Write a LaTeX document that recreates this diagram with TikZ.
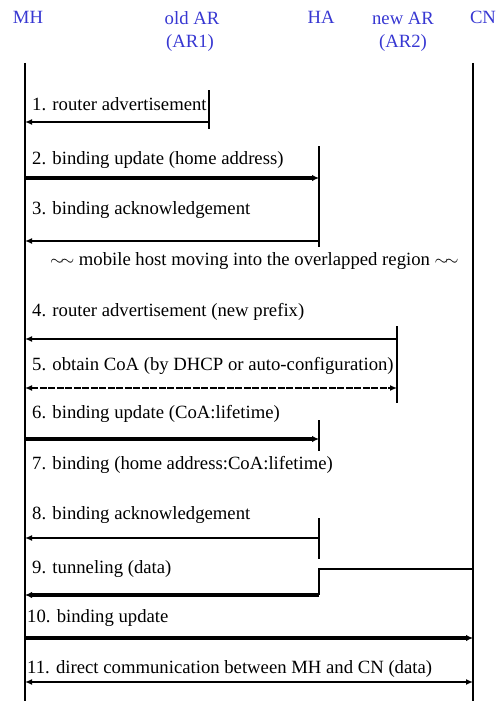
\documentclass[tikz,border=0pt]{standalone}
\usepackage{fontspec}
\setmainfont{Liberation Serif}
\usetikzlibrary{arrows.meta}
\definecolor{hdrblue}{RGB}{55,55,210}
\begin{document}
\begin{tikzpicture}[x=1pt,y=-1pt,
  hdr/.style={text=hdrblue, font=\fontsize{18.7}{22}\selectfont, inner sep=0pt, anchor=base},
  lbl/.style={font=\fontsize{18.7}{22}\selectfont, inner sep=0pt, anchor=base west},
  life/.style={line width=1.8pt},
  tickline/.style={line width=1.7pt},
  msg/.style={line width=1.5pt, -{Latex[length=7pt,width=6pt]}},
  tmsg/.style={line width=3.6pt, -{Latex[length=7pt,width=6.5pt]}},
  dmsg/.style={line width=1.5pt, dash pattern=on 7pt off 1.5pt, {Latex[length=7pt,width=6pt]}-{Latex[length=7pt,width=6pt]}},
  bmsg/.style={line width=1.5pt, {Latex[length=7pt,width=6pt]}-{Latex[length=7pt,width=6pt]}}]
\useasboundingbox (0,0) rectangle (497,701);

% headers
\node[hdr] (hMH) at (28,24) {MH};
\node[hdr] (hOld) at (192,25) {old AR};
\node[hdr] (hOld2) at (190,48) {(AR1)};
\node[hdr] (hHA) at (321,24) {HA};
\node[hdr] (hNew) at (403,25) {new AR};
\node[hdr] (hNew2) at (403,48) {(AR2)};
\node[hdr] (hCN) at (483,24) {CN};

% lifelines
\coordinate (mhT) at (25,63); \coordinate (mhB) at (25,701);
\coordinate (cnT) at (473,63); \coordinate (cnB) at (473,701);
\draw[life] (mhT) -- (mhB);
\draw[life] (cnT) -- (cnB);

% 1
\node[lbl] (t1) at (32,110) {1. router advertisement};
\coordinate (ar1a) at (209,90); \coordinate (ar1b) at (209,129);
\draw[tickline] (ar1a) -- (ar1b);
\coordinate (m1s) at (209,122); \coordinate (m1e) at (25,122);
\draw[msg] (m1s) -- (m1e);

% 2,3
\node[lbl] (t2) at (32,164) {2. binding update (home address)};
\coordinate (ha1a) at (319,146); \coordinate (ha1b) at (319,247);
\draw[tickline] (ha1a) -- (ha1b);
\coordinate (m2s) at (25,178); \coordinate (m2e) at (319,178);
\draw[tmsg] (m2s) -- (m2e);
\node[lbl] (t3) at (32,214) {3. binding acknowledgement};
\coordinate (m3s) at (319,241); \coordinate (m3e) at (25,241);
\draw[msg] (m3s) -- (m3e);

\node[lbl] (tmove) at (50,265) {$\sim\!\sim$ mobile host moving into the overlapped region $\sim\!\sim$};

% 4,5
\node[lbl] (t4) at (32,316) {4. router advertisement (new prefix)};
\coordinate (ar2a) at (397,326); \coordinate (ar2b) at (397,403);
\draw[tickline] (ar2a) -- (ar2b);
\coordinate (m4s) at (397,339); \coordinate (m4e) at (25,339);
\draw[msg] (m4s) -- (m4e);
\node[lbl] (t5) at (32,370) {5. obtain CoA (by DHCP or auto-configuration)};
\coordinate (m5s) at (25,388); \coordinate (m5e) at (397,388);
\draw[dmsg] (m5s) -- (m5e);

% 6,7
\node[lbl] (t6) at (32,418) {6. binding update (CoA:lifetime)};
\coordinate (ha2a) at (319,420); \coordinate (ha2b) at (319,451);
\draw[tickline] (ha2a) -- (ha2b);
\coordinate (m6s) at (25,439); \coordinate (m6e) at (319,439);
\draw[tmsg] (m6s) -- (m6e);
\node[lbl] (t7) at (32,469) {7. binding (home address:CoA:lifetime)};

% 8
\node[lbl] (t8) at (32,519) {8. binding acknowledgement};
\coordinate (ha3a) at (319,518); \coordinate (ha3b) at (319,559);
\draw[tickline] (ha3a) -- (ha3b);
\coordinate (m8s) at (319,538); \coordinate (m8e) at (25,538);
\draw[msg] (m8s) -- (m8e);

% 9
\node[lbl] (t9) at (32,573) {9. tunneling (data)};
\coordinate (m9s) at (473,569); \coordinate (m9c) at (319,595); \coordinate (m9e) at (25,595);
\draw[line width=1.5pt] (m9s) -| (m9c);
\draw[tmsg] (m9c) -- (m9e);

% 10
\node[lbl] (t10) at (27,622) {10. binding update};
\coordinate (m10s) at (25,638); \coordinate (m10e) at (473,638);
\draw[tmsg] (m10s) -- (m10e);

% 11
\node[lbl] (t11) at (27,673) {11. direct communication between MH and CN (data)};
\coordinate (m11s) at (25,682); \coordinate (m11e) at (473,682);
\draw[bmsg] (m11s) -- (m11e);
\end{tikzpicture}
\end{document}
